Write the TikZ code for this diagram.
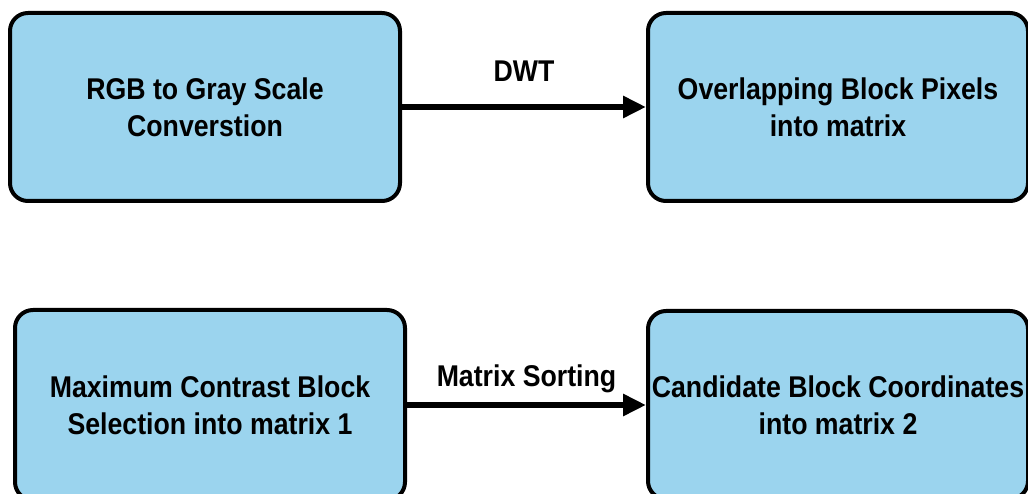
\documentclass[tikz,border=0pt]{standalone}
\usepackage{fontspec}
\setmainfont{Liberation Sans}[FakeStretch=0.89]
\usetikzlibrary{arrows.meta}
\definecolor{boxblue}{RGB}{155,212,238}
\tikzset{
  blockbox/.style={draw=black, line width=4pt, fill=boxblue, rounded corners=18pt,
    align=center, inner sep=0pt, font=\bfseries\fontsize{30}{37}\selectfont},
  flowarrow/.style={draw=black, line width=6.5pt, -{Triangle[length=23pt,width=21pt]}},
  flowlabel/.style={anchor=base, inner sep=0pt, font=\bfseries\fontsize{30}{36}\selectfont}
}
\begin{document}
\begin{tikzpicture}[x=1pt,y=-1pt]
\useasboundingbox (0,0) rectangle (1028,494);
\clip (0,0) rectangle (1028,494);
\node[blockbox, minimum width=390pt, minimum height=188pt] (tl) at (205,107) {RGB to Gray Scale\\Converstion};
\node[blockbox, minimum width=380pt, minimum height=188pt] (tr) at (838,107) {Overlapping Block Pixels\\into matrix};
\node[blockbox, minimum width=390pt, minimum height=190pt] (bl) at (210,405) {Maximum Contrast Block\\Selection into matrix 1};
\node[blockbox, minimum width=380pt, minimum height=188pt] (br) at (838,405) {Candidate Block Coordinates\\into matrix 2};
\draw[flowarrow] (tl.east) -- node[flowlabel, yshift=25pt] (dwt) {DWT} (tr.west);
\draw[flowarrow] (bl.east) -- node[flowlabel, yshift=19pt] (ms) {Matrix Sorting} (br.west);
\end{tikzpicture}
\end{document}
